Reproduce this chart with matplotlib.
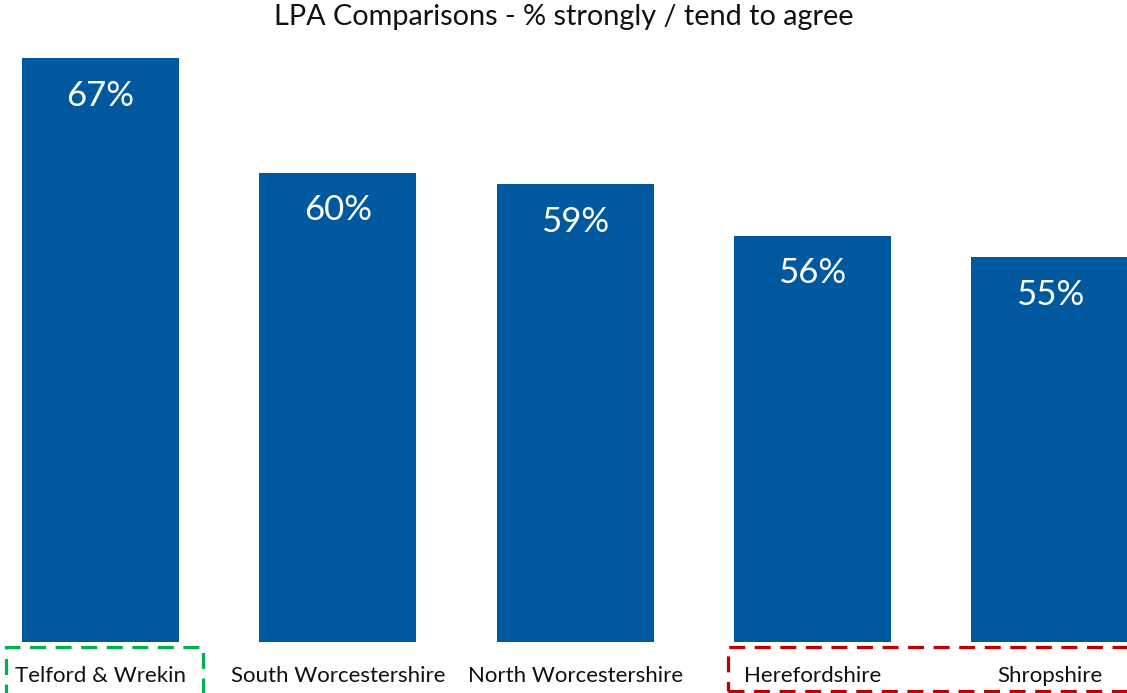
import matplotlib
matplotlib.use("Agg")
import matplotlib.pyplot as plt
from matplotlib.patches import Rectangle
import matplotlib.transforms as mtransforms

categories = ["Telford & Wrekin", "South Worcestershire", "North Worcestershire",
              "Herefordshire", "Shropshire"]
values = [67.0, 60.1, 59.4, 56.3, 55.0]
title = "LPA Comparisons - % strongly / tend to agree"

bar_color = "#00599F"
font = ["Lato", "DejaVu Sans"]

W, H = 1127, 693
fig = plt.figure(figsize=(W / 100, H / 100), dpi=100)
# axes placed in pixel terms: bottom 642, top 40
ax = fig.add_axes([0, (H - 642) / H, 1, (642 - 40) / H])

x = list(range(len(categories)))
ax.bar(x, values, width=0.662, color=bar_color, zorder=2)
ax.set_xlim(-0.4235, 4.3257)
ax.set_ylim(31.8, 68.1)

for xi, v in zip(x, values):
    ax.annotate(f"{v:.0f}%", (xi, v), xytext=(0, -27), textcoords="offset points",
                ha="center", va="center", color="white", fontsize=25, family=font)

ax.set_xticks(x)
ax.set_xticklabels(categories, fontsize=16, family=font, color="#111111")
ax.tick_params(axis="x", length=0, pad=17)
ax.set_yticks([])
for s in ax.spines.values():
    s.set_visible(False)

fig.text(0.5, 1 - 17 / H, title, ha="center", va="center", fontsize=20.8,
         family=font, color="#111111")

# dashed highlight boxes round the category labels
trans = mtransforms.blended_transform_factory(ax.transData, ax.transAxes)
boxes = [(-0.398, 0.432, -0.10, "#00B050"), (2.644, 4.45, -0.081, "#C00000")]
for x0, x1, y0, col in boxes:
    r = Rectangle((x0, y0), x1 - x0, -0.008 - y0, transform=trans, fill=False,
                  edgecolor=col, lw=2.3, ls=(0, (5, 3)), clip_on=False)
    ax.add_patch(r)

fig.savefig("out.png", dpi=100)
